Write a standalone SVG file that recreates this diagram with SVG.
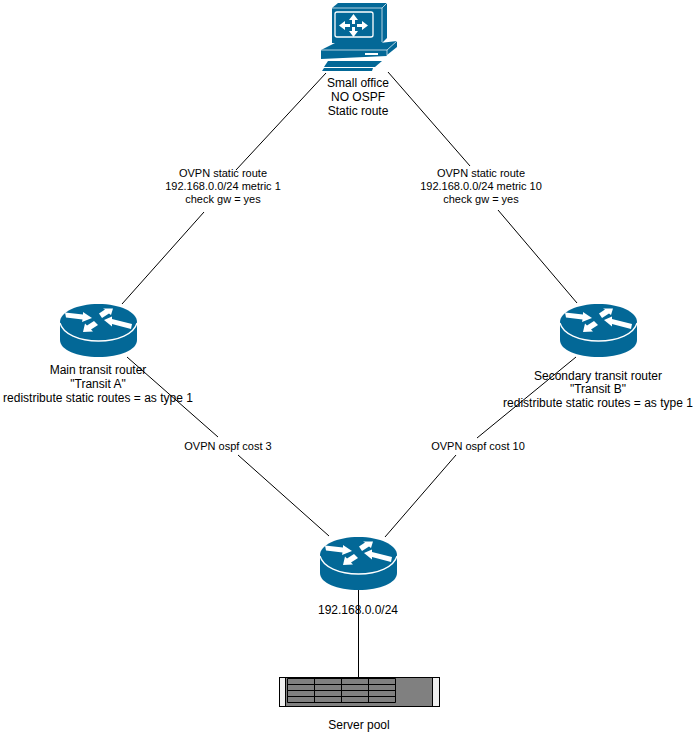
<svg xmlns="http://www.w3.org/2000/svg" width="696" height="735" viewBox="0 0 696 735">
<style>
text{font-family:"Liberation Sans",Arial,sans-serif;font-size:12px;fill:#000;text-anchor:middle}
.e{font-size:11px}
.c{stroke:#000;stroke-width:1;fill:none}
.b{fill:#036897}
.w{fill:#fff}
.s{fill:#808080;stroke:#000;stroke-width:1}
</style>
<defs>
<g id="router">
<path class="b" d="M0 17C0 7 17 -1 38.500 -1S77 7 77 17V35C77 45 60 52 38.500 52S0 45 0 35Z"/>
<path d="M0 18C3 29 19 36 38.500 36S74 29 77 18" fill="none" stroke="#fff" stroke-width="1.300"/>
<path class="w" d="M5 7.500L23 9.500L23 7L32 13L22 17L22.500 14.500L6 12.500Z"/>
<path class="w" d="M39 8.500L45 4.500L43 3.500L53 3.500L51 10L49 8.500L42 13Z"/>
<path class="w" d="M44 15L52 11.500L52 14L72 19L71 24L52 19L52 21.500Z"/>
<path class="w" d="M23 27L25 18.500L27 20.500L34 16L38 20L31 24.500L33 26.500Z"/>
</g>
</defs>
<g id="connectors">
<path class="c" d="M326 73L236 170M204 212L122 304"/>
<path class="c" d="M388 72L470 166M498 210L577 303"/>
<path class="c" d="M127 357L218 437M238 455L329 536"/>
<path class="c" d="M576 357L477 438M456 455L385 537"/>
<path class="c" d="M358.500 590V677"/>
</g>
<g id="small-office">
<path class="b" d="M332 8L338 3H387V38L382 43H332Z"/>
<path d="M332 8H382V42M382 8L387 3" fill="none" stroke="#fff" stroke-width=".7"/>
<rect x="335" y="12" width="38" height="25" class="b" stroke="#fff" stroke-width="1.300" rx="2"/>
<path class="w" d="M353.500 14L358 20H355V24H352V20H349ZM353.500 37L349 31H352V27H355V31H358ZM339 25.500L345 21V24H350V27H345V30ZM368 25.500L362 30V27H357V24H362V21Z"/>
<path class="b" d="M321 50L337 42H345V43H380L397 41V47L387 55V56L321 59Z"/>
<path d="M321 50H387L397 41M387 50V56" fill="none" stroke="#fff" stroke-width=".7"/>
<rect x="365" y="53" width="13" height="2" class="w"/>
<path class="b" d="M328 61H382L375 67H324Z"/>
<path class="b" d="M324 68H373L372 71H322Z"/>
</g>
<text x="358" y="87">Small office</text>
<text x="358" y="101">NO OSPF</text>
<text x="358" y="115">Static route</text>
<g id="edge-labels">
<text class="e" x="223" y="177">OVPN static route</text>
<text class="e" x="223" y="190">192.168.0.0/24 metric 1</text>
<text class="e" x="223" y="203">check gw = yes</text>
<text class="e" x="481" y="177">OVPN static route</text>
<text class="e" x="481" y="190">192.168.0.0/24 metric 10</text>
<text class="e" x="481" y="203">check gw = yes</text>
<text class="e" x="228" y="450">OVPN ospf cost 3</text>
<text class="e" x="478" y="450">OVPN ospf cost 10</text>
</g>
<g id="transit-a">
<use href="#router" x="60" y="305"/>
<text x="98" y="374">Main transit router</text>
<text x="98" y="388">"Transit A"</text>
<text x="98" y="402">redistribute static routes = as type 1</text>
</g>
<g id="transit-b">
<use href="#router" x="560" y="305"/>
<text x="598" y="380">Secondary transit router</text>
<text x="598" y="393">"Transit B"</text>
<text x="598" y="407">redistribute static routes = as type 1</text>
</g>
<g id="core-router">
<use href="#router" x="320" y="538"/>
<text x="358" y="614">192.168.0.0/24</text>
</g>
<g id="server-pool">
<rect x="279.500" y="677.500" width="160" height="29" fill="#f0f0f0" stroke="#000"/>
<rect x="285.500" y="677.500" width="147" height="29" fill="#808080" stroke="#000"/>
<path class="s" d="M287.500 678.500H395.500V702.500H287.500Z"/>
<path d="M287.500 684.500H395.500M287.500 690.500H395.500M287.500 696.500H395.500M314.500 678.500V702.500M341.500 678.500V702.500M368.500 678.500V702.500" class="c"/>
<text x="359" y="729">Server pool</text>
</g>
</svg>
